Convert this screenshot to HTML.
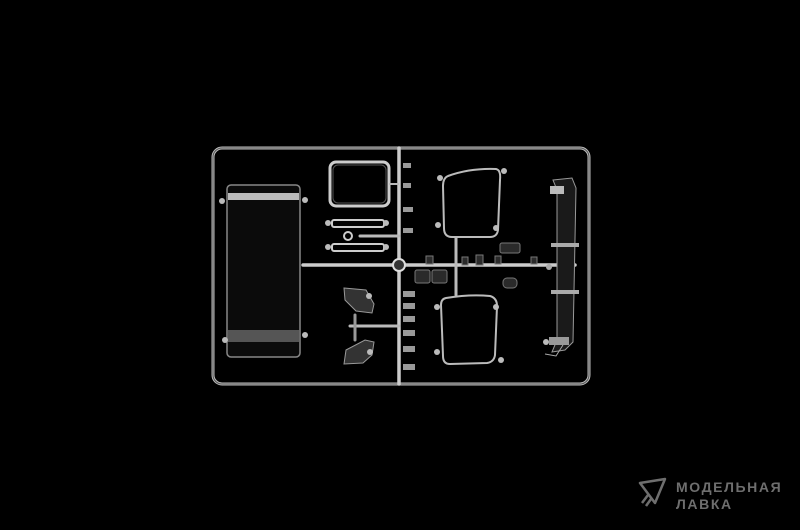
<!DOCTYPE html>
<html><head><meta charset="utf-8"><style>
html,body{margin:0;padding:0;background:#000;width:800px;height:530px;overflow:hidden}
.logo{position:absolute;left:676px;top:479px;font-family:"Liberation Sans","DejaVu Sans",sans-serif;font-weight:bold;font-size:14px;line-height:17px;color:#6e6e6e;letter-spacing:1.6px}
</style></head><body>
<svg width="800" height="530" style="position:absolute;left:0;top:0">
<g fill="none" stroke-linecap="round">
<rect x="213" y="148" width="376" height="236" rx="9" stroke="#bbb" stroke-width="3"/>
<rect x="213" y="148" width="376" height="236" rx="9" stroke="#555" stroke-width="1"/>
<line x1="399" y1="148" x2="399" y2="384" stroke="#ccc" stroke-width="3.5"/>
<line x1="303" y1="265" x2="575" y2="265" stroke="#ccc" stroke-width="3.5"/>
<circle cx="399" cy="265" r="6" stroke="#ddd" stroke-width="2" fill="#333"/>
<line x1="456" y1="238" x2="456" y2="295" stroke="#bbb" stroke-width="3"/>
<line x1="350" y1="326" x2="399" y2="326" stroke="#bbb" stroke-width="3"/>
<line x1="355" y1="315" x2="355" y2="340" stroke="#999" stroke-width="3"/>
<line x1="360" y1="236" x2="399" y2="236" stroke="#bbb" stroke-width="3"/>
</g>
<rect x="227" y="185" width="73" height="172" rx="4" fill="#0b0b0b" stroke="#888" stroke-width="1.5"/>
<rect x="228" y="193" width="71" height="7" fill="#bbb"/>
<rect x="228" y="330" width="71" height="12" fill="#555"/>
<circle cx="222" cy="201" r="3" fill="#bbb"/><circle cx="305" cy="200" r="3" fill="#bbb"/>
<circle cx="225" cy="340" r="3" fill="#bbb"/><circle cx="305" cy="335" r="3" fill="#bbb"/>
<rect x="330" y="162" width="59" height="44" rx="6" fill="none" stroke="#ccc" stroke-width="3"/>
<rect x="333" y="165" width="53" height="38" rx="5" fill="none" stroke="#555" stroke-width="1"/>
<line x1="389" y1="184" x2="399" y2="184" stroke="#bbb" stroke-width="2"/>
<rect x="332" y="220" width="52" height="7" rx="2" fill="none" stroke="#ccc" stroke-width="2"/>
<rect x="332" y="244" width="52" height="7" rx="2" fill="none" stroke="#ccc" stroke-width="2"/>
<circle cx="328" cy="223" r="3" fill="#bbb"/><circle cx="386" cy="223" r="3" fill="#bbb"/>
<circle cx="328" cy="247" r="3" fill="#bbb"/><circle cx="386" cy="247" r="3" fill="#bbb"/>
<circle cx="348" cy="236" r="4" fill="none" stroke="#ccc" stroke-width="2"/>
<g fill="#999">
<rect x="403" y="163" width="8" height="5"/><rect x="403" y="183" width="8" height="5"/>
<rect x="403" y="207" width="10" height="5"/><rect x="403" y="228" width="10" height="5"/>
<rect x="403" y="291" width="12" height="6"/><rect x="403" y="303" width="12" height="6"/>
<rect x="403" y="316" width="12" height="6"/><rect x="403" y="330" width="12" height="6"/>
<rect x="403" y="346" width="12" height="6"/><rect x="403" y="364" width="12" height="6"/>
</g>
<path d="M344 288 L366 290 L374 304 L372 313 L356 311 L345 300 Z" fill="#333" stroke="#999"/>
<path d="M346 350 L365 340 L374 342 L372 355 L363 363 L344 364 Z" fill="#333" stroke="#999"/>
<circle cx="369" cy="296" r="3" fill="#bbb"/><circle cx="370" cy="352" r="3" fill="#bbb"/>
<path d="M448 176 Q470 168 496 169 Q501 170 500 180 L498 230 Q497 237 490 237 L452 237 Q444 237 444 228 L443 186 Q443 178 448 176 Z" fill="none" stroke="#bbb" stroke-width="2"/>
<path d="M446 298 Q470 294 490 296 Q497 298 497 306 L495 355 Q494 362 487 363 L450 364 Q443 364 443 356 L441 305 Q441 299 446 298 Z" fill="none" stroke="#bbb" stroke-width="2"/>
<g fill="#bbb"><circle cx="440" cy="178" r="3"/><circle cx="504" cy="171" r="3"/><circle cx="438" cy="225" r="3"/><circle cx="496" cy="228" r="3"/>
<circle cx="437" cy="307" r="3"/><circle cx="496" cy="307" r="3"/><circle cx="437" cy="352" r="3"/><circle cx="501" cy="360" r="3"/></g>
<g fill="#2a2a2a" stroke="#777">
<rect x="426" y="256" width="7" height="8"/><rect x="415" y="270" width="15" height="13" rx="2"/><rect x="432" y="270" width="15" height="13" rx="2"/>
<rect x="462" y="257" width="6" height="8"/><rect x="476" y="255" width="7" height="10"/><rect x="495" y="256" width="6" height="8"/><rect x="531" y="257" width="6" height="7"/>
<rect x="500" y="243" width="20" height="10" rx="2"/><rect x="503" y="278" width="14" height="10" rx="4"/>
</g>
<path d="M553 180 L572 178 L576 188 L573 342 L565 350 L552 352 L557 340 L557 190 Z" fill="#1a1a1a" stroke="#999"/>
<rect x="550" y="186" width="14" height="8" fill="#bbb"/>
<rect x="551" y="243" width="28" height="4" fill="#aaa"/><rect x="551" y="290" width="28" height="4" fill="#aaa"/>
<rect x="549" y="337" width="20" height="8" fill="#999"/>
<path d="M563 345 L556 356 L545 354" fill="none" stroke="#aaa"/>
<circle cx="546" cy="342" r="3" fill="#bbb"/><circle cx="549" cy="267" r="3" fill="#aaa"/>
<path d="M640 483 L665 479 L655 503 Z M648 495 L642 503 M651 499 L646 506" fill="none" stroke="#6e6e6e" stroke-width="2.5" stroke-linejoin="round"/>
</svg>
<div class="logo">МОДЕЛЬНАЯ<br>ЛАВКА</div>
</body></html>
